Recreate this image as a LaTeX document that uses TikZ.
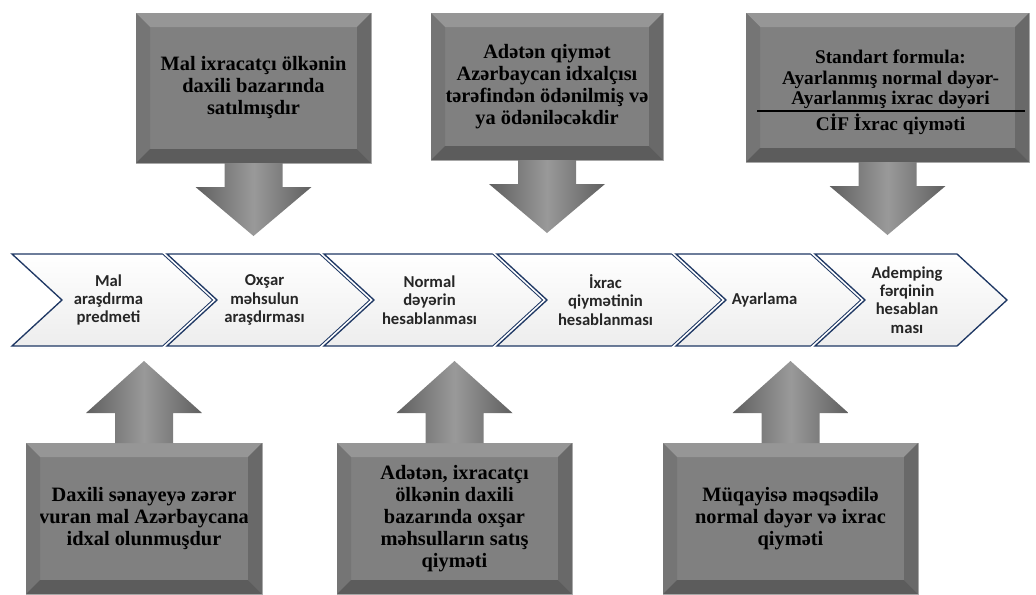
\documentclass[tikz,border=0pt]{standalone}
\usepackage{fontspec}
\setmainfont{Liberation Serif}
\newfontfamily\chevfont{Carlito}
\usetikzlibrary{calc,shadows}

\definecolor{chevline}{RGB}{31,56,100}
\definecolor{boxgray}{RGB}{128,128,128}

% one step of the process row
\newcommand{\chevron}[4]{%
  \path[chevshape] (#2,254) -- (#3,254) -- ({#3+50},300) -- (#3,346) -- (#2,346) -- ({#2+50},300) -- cycle;
  \node[chevtext] (#1) at ({(#2+#3)/2+21},300) {#4};}

% bevelled edge of a callout box
\newcommand{\bevel}[1]{%
  \fill[gray!82] (#1.north west) -- (#1.north east) -- ($(#1.north east)+(-14,14)$) -- ($(#1.north west)+(14,14)$) -- cycle;
  \fill[gray!92!black] (#1.north west) -- ($(#1.north west)+(14,14)$) -- ($(#1.south west)+(14,-14)$) -- (#1.south west) -- cycle;
  \fill[gray!82!black] (#1.north east) -- ($(#1.north east)+(-14,14)$) -- ($(#1.south east)+(-14,-14)$) -- (#1.south east) -- cycle;
  \fill[gray!72!black] (#1.south west) -- ($(#1.south west)+(14,-14)$) -- ($(#1.south east)+(-14,-14)$) -- (#1.south east) -- cycle;}

\begin{document}
\begin{tikzpicture}[x=0.75pt,y=-0.75pt,
  callout/.style={fill=boxgray,draw=gray!60,inner sep=0pt,outer sep=0pt,align=center,
    font=\bfseries\fontsize{15.3}{16.5}\selectfont},
  boxtext/.style={align=center,inner sep=0pt,font=\bfseries\fontsize{14.5}{15.5}\selectfont},
  chevshape/.style={drop shadow={opacity=0.25,shadow xshift=0pt,shadow yshift=-1.5pt},
    preaction={draw=white,line width=3.5pt},
    top color=white,bottom color=gray!14,draw=chevline,line width=1pt,line join=miter},
  chevtext/.style={align=center,text=black!85,
    font=\chevfont\bfseries\fontsize{12.5}{13.7}\selectfont},
  blockarrow/.style={left color=gray!75!black,right color=gray!75!black,middle color=gray!80!white},
  downarrow/.pic={\shade[blockarrow] (-29,0) -- (-29,24) -- (-58,24) -- (0,73) -- (58,24) -- (29,24) -- (29,0) -- cycle;},
  uparrow/.pic={\shade[blockarrow] (-29,0) -- (-29,-30) -- (-58,-30) -- (0,-82) -- (58,-30) -- (29,-30) -- (29,0) -- cycle;}]
\useasboundingbox (0,0) rectangle (1036,594);

% process row
\chevron{c1}{12}{163}{Mal\\araşdırma\\predmeti}
\chevron{c2}{167}{320}{Oxşar\\məhsulun\\araşdırması}
\chevron{c3}{324}{493}{Normal\\dəyərin\\hesablanması}
\chevron{c4}{497}{672}{İxrac\\qiymətinin\\hesablanması}
\chevron{c5}{676}{811}{Ayarlama}
\chevron{c6}{815}{957}{Ademping\\fərqinin\\hesablan\\ması}

% upper callouts
\node[callout,minimum width=176.25pt,minimum height=112.5pt] (b1) at (253.5,88)
  {Mal ixracatçı ölkənin\\daxili bazarında\\satılmışdır};
\bevel{b1}
\node[callout,minimum width=174pt,minimum height=110.25pt] (b2) at (547,86.5)
  {Adətən qiymət\\Azərbaycan idxalçısı\\tərəfindən ödənilmiş və\\ya ödəniləcəkdir};
\bevel{b2}
\node[callout,minimum width=212.25pt,minimum height=111.75pt] (b3) at (887.5,87.5) {};
\bevel{b3}
\node[boxtext] (f3) at ($(b3.center)+(3,5)$)
  {Standart formula:\\Ayarlanmış normal dəyər-\\Ayarlanmış ixrac dəyəri\\[3pt]CİF İxrac qiyməti};
\draw[line width=0.8pt] ($(b3.west)+(11,23.5)$) -- ($(b3.east)+(-4,23.5)$);

\pic at (b1.south) {downarrow};
\pic at (b2.south) {downarrow};
\pic at (b3.south) {downarrow};

% lower callouts
\node[callout,minimum width=177pt,minimum height=113.25pt] (d1) at (144,518.5)
  {Daxili sənayeyə zərər\\vuran mal Azərbaycana\\idxal olunmuşdur};
\bevel{d1}
\node[callout,minimum width=176.25pt,minimum height=113.25pt] (d2) at (454.5,518.5)
  {Adətən, ixracatçı\\ölkənin daxili\\bazarında oxşar\\məhsulların satış\\qiyməti};
\bevel{d2}
\node[callout,minimum width=191.25pt,minimum height=113.25pt] (d3) at (790.5,518.5)
  {Müqayisə məqsədilə\\normal dəyər və ixrac\\qiyməti};
\bevel{d3}

\pic at (d1.north) {uparrow};
\pic at (d2.north) {uparrow};
\pic at (d3.north) {uparrow};
\end{tikzpicture}
\end{document}
